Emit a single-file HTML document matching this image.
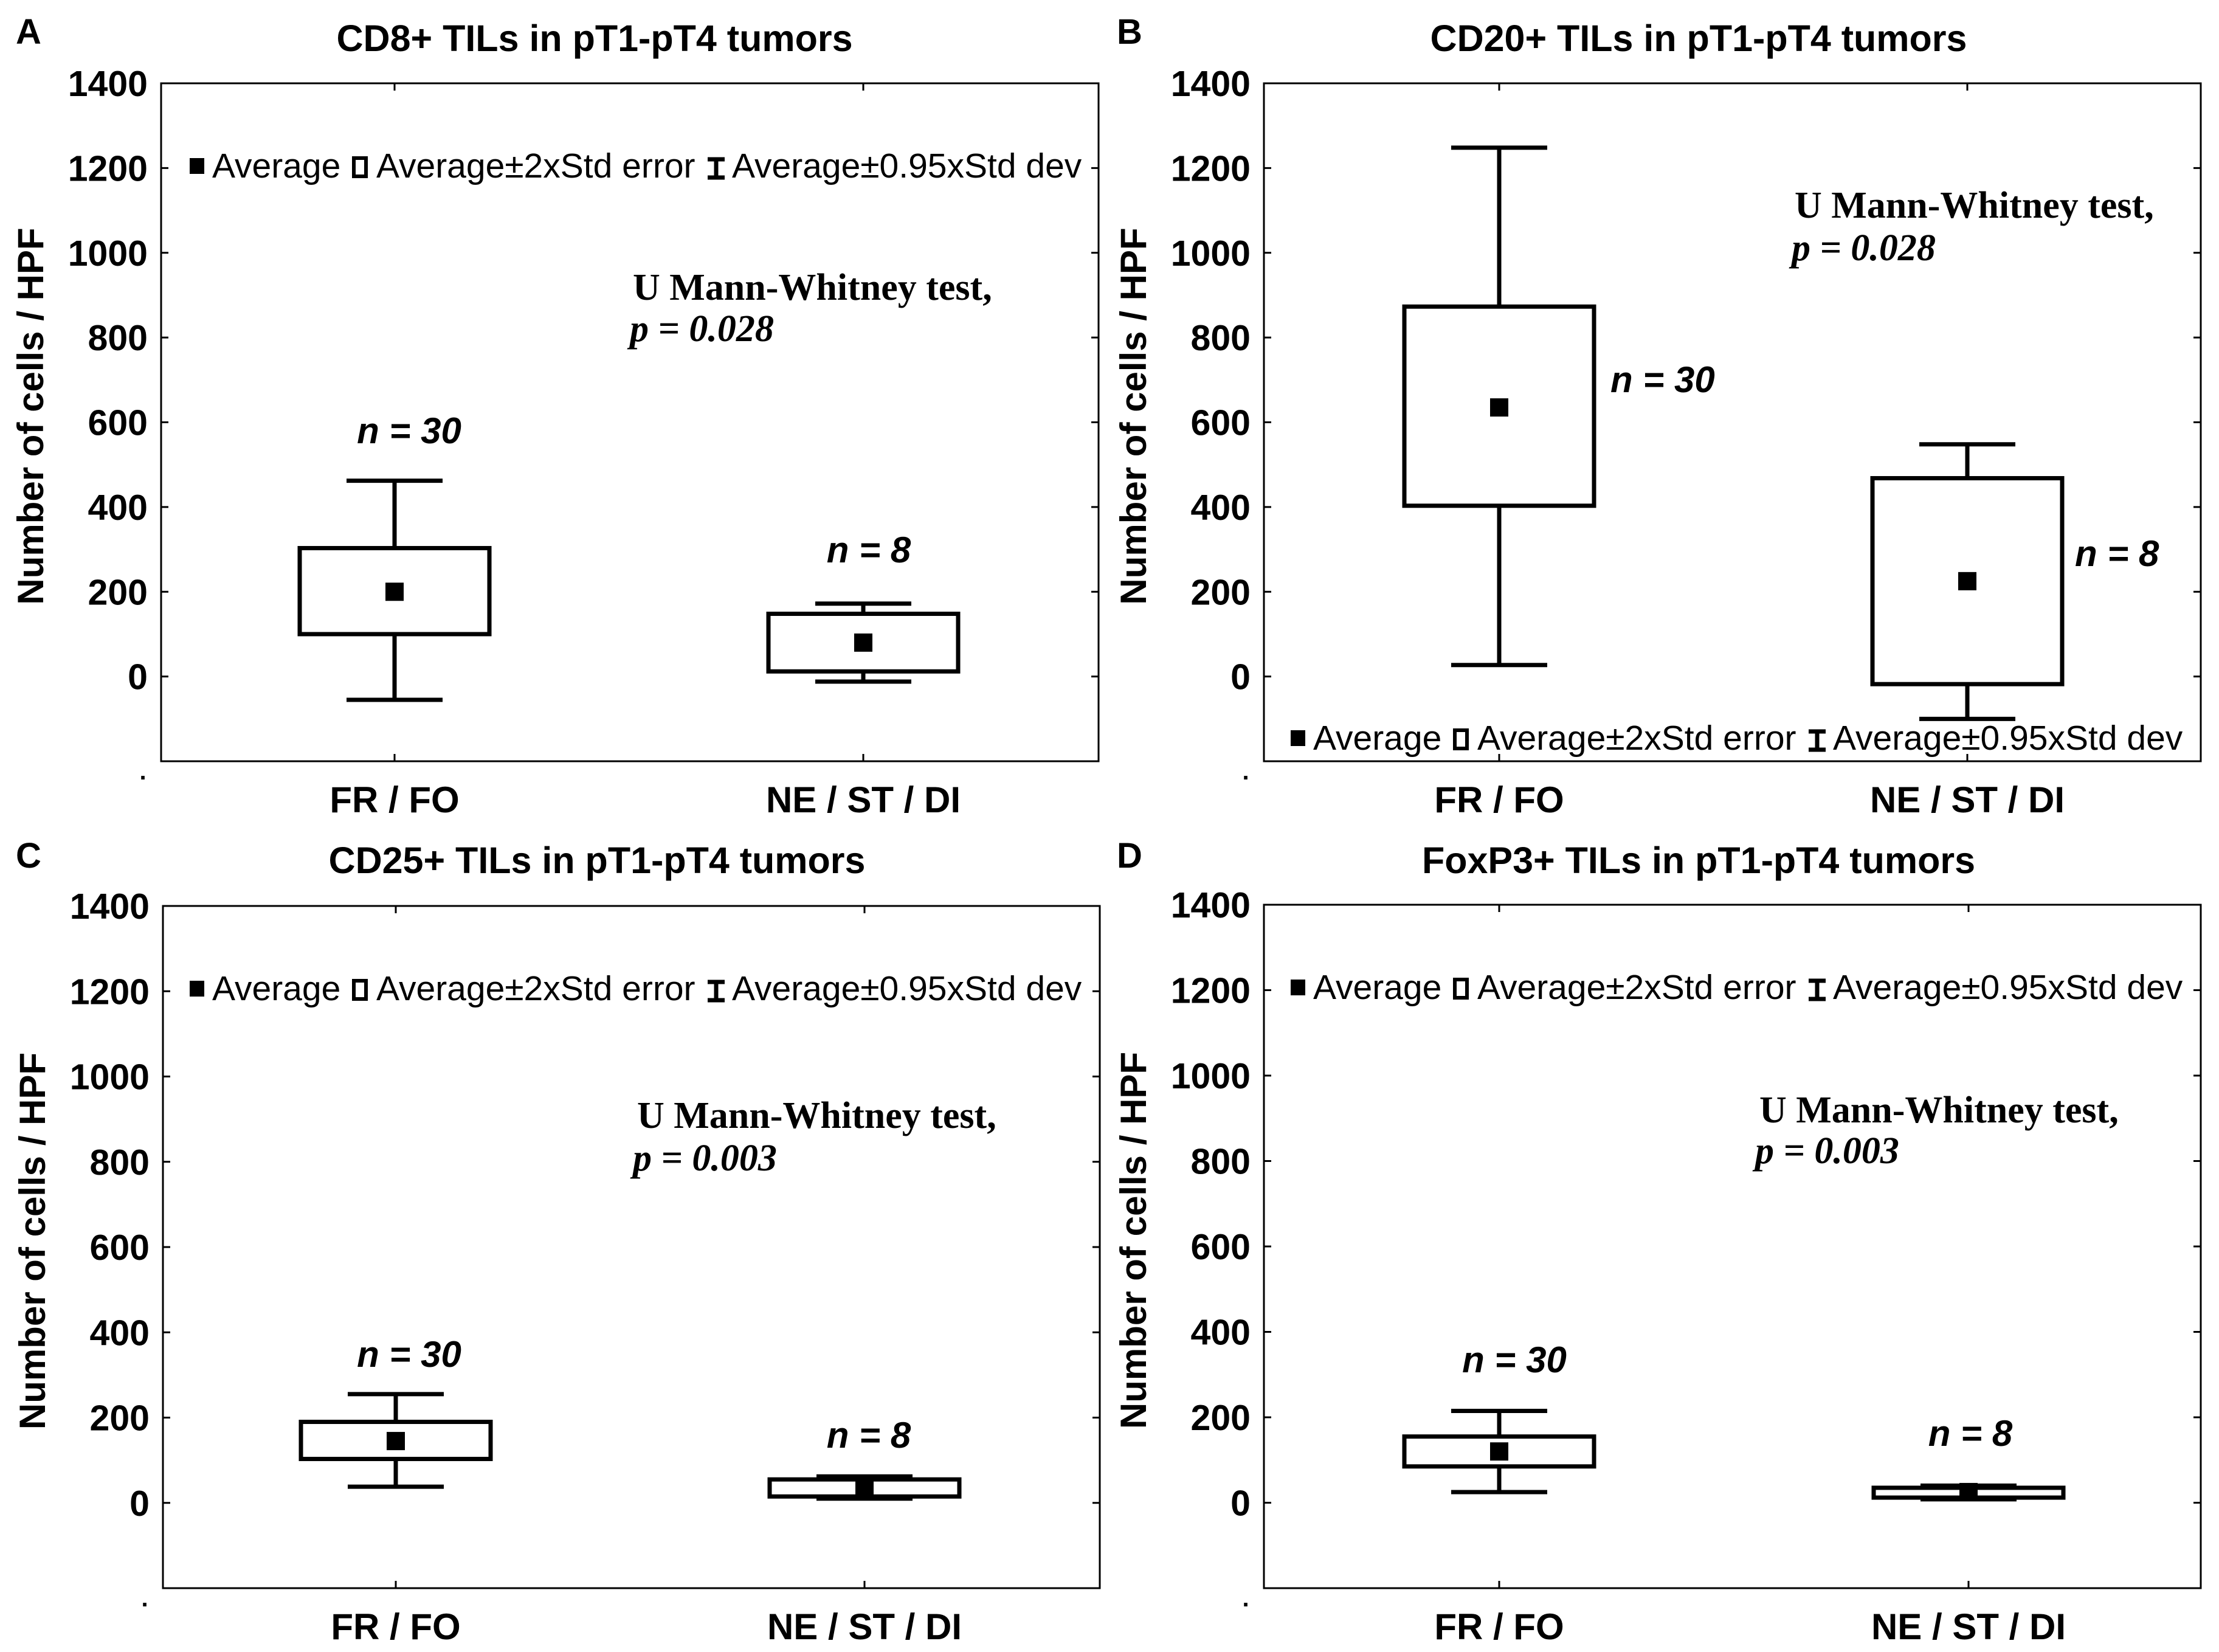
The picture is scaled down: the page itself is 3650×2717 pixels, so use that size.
<!DOCTYPE html>
<html><head><meta charset="utf-8">
<style>
html,body{margin:0;padding:0;background:#fff;}
svg{display:block;}
.sans{font-family:"Liberation Sans Narrow","Liberation Sans",sans-serif;}
.serif{font-family:"Liberation Serif",serif;}
</style></head>
<body>
<svg id="fig" width="3650" height="2717" viewBox="0 0 3650 2717" xmlns="http://www.w3.org/2000/svg"></svg>
<script>
const categories = ["FR / FO", "NE / ST / DI"];
const yTicks = [0, 200, 400, 600, 800, 1000, 1200, 1400];
const panelTitles = ["CD8+ TILs in pT1-pT4 tumors", "CD20+ TILs in pT1-pT4 tumors", "CD25+ TILs in pT1-pT4 tumors", "FoxP3+ TILs in pT1-pT4 tumors"];
const panelLetters = ["A", "B", "C", "D"];
const pValues = ["p = 0.028", "p = 0.028", "p = 0.003", "p = 0.003"];
const nLabels = ["n = 30", "n = 8"];
const meanA = [200, 80], boxLoA = [100, 12], boxHiA = [303, 148], whLoA = [-55, -12], whHiA = [462, 172];
const meanB = [635, 225], boxLoB = [403, -18], boxHiB = [873, 468], whLoB = [27, -100], whHiB = [1248, 548];
const meanC = [145, 35], boxLoC = [103, 15], boxHiC = [190, 55], whLoC = [38, 10], whHiC = [255, 62];
const meanD = [120, 25], boxLoD = [85, 12], boxHiD = [155, 35], whLoD = [25, 8], whHiD = [215, 40];

const svg = document.getElementById('fig');
const NS = 'http://www.w3.org/2000/svg';
function mk(tag, attrs, parent, text){
  const e = document.createElementNS(NS, tag);
  for (const k in attrs) e.setAttribute(k, attrs[k]);
  if (text !== undefined) e.textContent = text;
  (parent || svg).appendChild(e);
  return e;
}
const panels = [
  {L:265,R:1807,T:137,B:1252,cx:[649,1420],data:[meanA,boxLoA,boxHiA,whLoA,whHiA],
   leg:[312,272],mw:[1041,493],p:[1036,561],n:[[673,729,'middle'],[1429,925,'middle']],title:[978,84],letter:[26,72]},
  {L:2079,R:3620,T:137,B:1252,cx:[2466,3236],data:[meanB,boxLoB,boxHiB,whLoB,whHiB],
   leg:[2123,1213],mw:[2952,358],p:[2947,428],n:[[2649,645,'start'],[3413,931,'start']],title:[2794,84],letter:[1837,72]},
  {L:268,R:1809,T:1490,B:2612,cx:[651,1422],data:[meanC,boxLoC,boxHiC,whLoC,whHiC],
   leg:[312,1625],mw:[1048,1855],p:[1041,1925],n:[[673,2248,'middle'],[1429,2381,'middle']],title:[982,1436],letter:[26,1427]},
  {L:2079,R:3620,T:1488,B:2612,cx:[2466,3238],data:[meanD,boxLoD,boxHiD,whLoD,whHiD],
   leg:[2123,1623],mw:[2894,1846],p:[2887,1913],n:[[2491,2257,'middle'],[3241,2378,'middle']],title:[2794,1436],letter:[1837,1427]}
];
const yMin = -200, yMax = 1400;

panels.forEach((P, pi) => {
  const g = mk('g', {});
  
  
  const y = v => P.B - (v - yMin) / (yMax - yMin) * (P.B - P.T);

  const letter = mk('text', {x:P.letter[0], y:P.letter[1], class:'sans', 'font-size':58, 'font-weight':'bold'}, g, panelLetters[pi]);
  
  
  const title = mk('text', {x:P.title[0], y:P.title[1], class:'sans', 'font-size':61, 'font-weight':'bold', 'text-anchor':'middle'}, g, panelTitles[pi]);
  
  

  const frame = mk('rect', {x:P.L, y:P.T, width:P.R-P.L, height:P.B-P.T, fill:'none', stroke:'#000', 'stroke-width':3}, g);
  
  

  yTicks.forEach(t => {
    const yy = y(t);
    mk('line', {x1:P.L, x2:P.L+12, y1:yy, y2:yy, stroke:'#000', 'stroke-width':3}, g);
    mk('line', {x1:P.R-12, x2:P.R, y1:yy, y2:yy, stroke:'#000', 'stroke-width':3}, g);
    const tl = mk('text', {x:P.L-22, y:yy+21, class:'sans', 'font-size':59, 'font-weight':'bold', 'text-anchor':'end'}, g, String(t));
    
    
  });
  mk('text', {x:P.L-30, y:P.B+30, class:'sans', 'font-size':40, 'font-weight':'bold', 'text-anchor':'middle'}, g, '.');

  const ycen = (P.T + P.B) / 2 - 10;
  const yt = mk('text', {x:0, y:0, class:'sans', 'font-size':60, 'font-weight':'bold', 'text-anchor':'middle',
    transform:'translate(' + (P.L - 194) + ',' + ycen + ') rotate(-90)'}, g, 'Number of cells / HPF');
  
  

  categories.forEach((c, i) => {
    const cx = P.cx[i];
    mk('line', {x1:cx, x2:cx, y1:P.T, y2:P.T+12, stroke:'#000', 'stroke-width':3}, g);
    mk('line', {x1:cx, x2:cx, y1:P.B-12, y2:P.B, stroke:'#000', 'stroke-width':3}, g);
    const cl = mk('text', {x:cx, y:P.B+84, class:'sans', 'font-size':60, 'font-weight':'bold', 'text-anchor':'middle'}, g, c);
    
    

    const [mean, blo, bhi, wlo, whi] = P.data.map(a => a[i]);
    const bw = 312, cw = 158;
    const wk = mk('g', {stroke:'#000', 'stroke-width':7, fill:'none'}, g);
    
    
    mk('line', {x1:cx, x2:cx, y1:y(whi), y2:y(bhi)}, wk);
    mk('line', {x1:cx, x2:cx, y1:y(blo), y2:y(wlo)}, wk);
    mk('line', {x1:cx-cw/2, x2:cx+cw/2, y1:y(whi), y2:y(whi)}, wk);
    mk('line', {x1:cx-cw/2, x2:cx+cw/2, y1:y(wlo), y2:y(wlo)}, wk);
    const bx = mk('rect', {x:cx-bw/2, y:y(bhi), width:bw, height:y(blo)-y(bhi), fill:'#fff', stroke:'#000', 'stroke-width':7}, g);
    
    
    const mn = mk('rect', {x:cx-15, y:y(mean)-15, width:30, height:30, fill:'#000'}, g);
    
    

    const nl = mk('text', {x:P.n[i][0], y:P.n[i][1], class:'sans', 'font-size':60, 'font-weight':'bold', 'font-style':'italic', 'text-anchor':P.n[i][2]}, g, nLabels[i]);
    
    
  });

  const lg = mk('g', {}, g);
  
  
  const lx = P.leg[0], ly = P.leg[1];
  mk('rect', {x:lx, y:ly-12, width:24, height:26, fill:'#000'}, lg);
  mk('text', {x:lx+37, y:ly+20, class:'sans', 'font-size':57}, lg, 'Average');
  mk('rect', {x:lx+270, y:ly-12, width:20, height:30, fill:'none', stroke:'#000', 'stroke-width':6}, lg);
  mk('text', {x:lx+307, y:ly+20, class:'sans', 'font-size':57}, lg, 'Average±2xStd error');
  mk('path', {d:'M'+(lx+852)+','+(ly-10)+'h28M'+(lx+866)+','+(ly-10)+'v30M'+(lx+852)+','+(ly+20)+'h28', stroke:'#000', 'stroke-width':7, fill:'none'}, lg);
  mk('text', {x:lx+892, y:ly+20, class:'sans', 'font-size':57}, lg, 'Average±0.95xStd dev');

  const mw = mk('text', {x:P.mw[0], y:P.mw[1], class:'serif', 'font-size':62, 'font-weight':'bold'}, g, 'U Mann-Whitney test,');
  
  
  const pv = mk('text', {x:P.p[0], y:P.p[1], class:'serif', 'font-size':62, 'font-weight':'bold', 'font-style':'italic'}, g, pValues[pi]);
  
  
});
</script>
</body></html>
